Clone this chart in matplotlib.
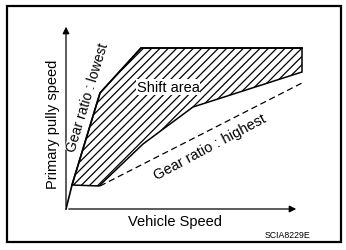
import matplotlib
matplotlib.use("Agg")
import matplotlib.pyplot as plt
from matplotlib.patches import Polygon, Rectangle

plt.rcParams['font.family'] = ['Liberation Sans', 'DejaVu Sans']
plt.rcParams['hatch.linewidth'] = 0.9

# vehicle speed / pulley speed, arbitrary units (origin at axis corner)
lowest_x = [0, 6, 34, 75, 236]
lowest_y = [0, 24, 116, 161, 161]
shift_lower_x = [236, 127, 77, 33, 6]
shift_lower_y = [137, 102, 65, 23, 24]
highest_x = [34, 236]
highest_y = [23, 126]

fig = plt.figure(figsize=(3.46, 2.51), dpi=100)
ax = fig.add_axes([0, 0, 1, 1])
ax.set_xlim(-66, 280)
ax.set_ylim(-41, 210)
ax.axis('off')

# shift area (hatched)
poly_x = lowest_x[1:] + shift_lower_x
poly_y = lowest_y[1:] + shift_lower_y
ax.add_patch(Polygon(list(zip(poly_x, poly_y)), closed=True, facecolor='white',
                     edgecolor='black', hatch='////', linewidth=1.1, zorder=2))
ax.plot(lowest_x, lowest_y, color='black', lw=1.2, zorder=3)
ax.plot(highest_x, highest_y, color='black', lw=0.9, ls=(0, (5, 3)), zorder=3)

# axes with arrows
ax.annotate('', xy=(0, 185), xytext=(0, 0),
            arrowprops=dict(arrowstyle='-|>', color='black', lw=0.9,
                            mutation_scale=10), zorder=4)
ax.annotate('', xy=(233, 0), xytext=(0, 0),
            arrowprops=dict(arrowstyle='-|>', color='black', lw=0.9,
                            mutation_scale=10), zorder=4)

# labels
ax.text(-13, 86, 'Primary pully speed', rotation=90, ha='center', va='center', fontsize=10.5)
ax.text(109, -12, 'Vehicle Speed', ha='center', va='center', fontsize=10.5)
ax.text(102, 122, 'Shift area', ha='center', va='center', fontsize=10.5, zorder=5,
        bbox=dict(facecolor='white', edgecolor='none', pad=0.5))
ax.text(22, 112, 'Gear ratio : lowest', rotation=73, ha='center', va='center',
        fontsize=10, zorder=5, bbox=dict(facecolor='white', edgecolor='none', pad=0.3))
ax.text(144, 63, 'Gear ratio : highest', rotation=28, ha='center', va='center',
        fontsize=10.5, zorder=5)
ax.text(222, -26, 'SCIA8229E', ha='center', va='center', fontsize=6.3)

# frame
ax.add_patch(Rectangle((-59, -33), 334, 236, fill=False, edgecolor='black',
                       linewidth=1.6, zorder=6))

fig.savefig('out.png', dpi=100)
